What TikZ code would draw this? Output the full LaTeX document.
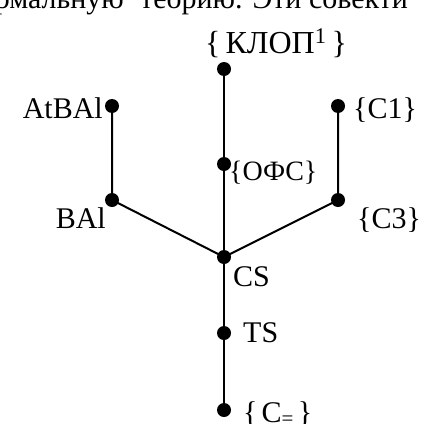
\documentclass[tikz,border=0pt]{standalone}
\usepackage{fontspec}
\setmainfont{Liberation Serif}
\begin{document}
\begin{tikzpicture}[x=1pt,y=-1pt,
  dot/.style={circle,fill=black,inner sep=0pt,minimum size=14pt},
  edge/.style={line width=2pt},
  lbl/.style={inner sep=0pt,font=\fontsize{30}{36}\selectfont},
  lblbig/.style={inner sep=0pt,font=\fontsize{32}{38}\selectfont},
  lblsmall/.style={inner sep=0pt,font=\fontsize{28}{34}\selectfont}]
\useasboundingbox (0,0) rectangle (430,423);
\clip (0,0) rectangle (430,423);
% cropped running text at the top
\node[lbl,anchor=base east] (txtA) at (124,9) {нормальную};
\node[lbl,anchor=base west] (txtB) at (140,9) {теорию. Эти совекти};
% dots
\node[dot] (top) at (224,69) {};
\node[dot] (ofs) at (224,164) {};
\node[dot] (cs) at (224,257) {};
\node[dot] (ts) at (224,333) {};
\node[dot] (ceq) at (224,410) {};
\node[dot] (atbal) at (112,106) {};
\node[dot] (bal) at (112,200) {};
\node[dot] (c1) at (338,106) {};
\node[dot] (c3) at (338,200) {};
% connectors
\draw[edge] (top.center) -- (ofs.center) -- (cs.center) -- (ts.center) -- (ceq.center);
\draw[edge] (atbal.center) -- (bal.center) -- (cs.center);
\draw[edge] (c1.center) -- (c3.center) -- (cs.center);
% labels
\node[lblbig,anchor=base west] (ltop) at (205,53) {\{\kern5pt КЛОП\textsuperscript{1}\kern5pt\}};
\node[lbl,anchor=base east] (latbal) at (103,118) {AtBAl};
\node[lbl,anchor=base east] (lbal) at (106,228) {BAl};
\node[lbl,anchor=base west] (lc1) at (353,118) {\{C1\}};
\node[lbl,anchor=base west] (lc3) at (357,228) {\{C3\}};
\node[lblsmall,anchor=base west] (lofs) at (229,180) {\{ОФС\}};
\node[lbl,anchor=base west] (lcs) at (233,286) {CS};
\node[lbl,anchor=base west] (lts) at (243,342) {TS};
\node[lbl,anchor=base west] (lceq) at (243,422) {\{\kern4pt C\textsubscript{=}\kern4pt\}};
\end{tikzpicture}
\end{document}
